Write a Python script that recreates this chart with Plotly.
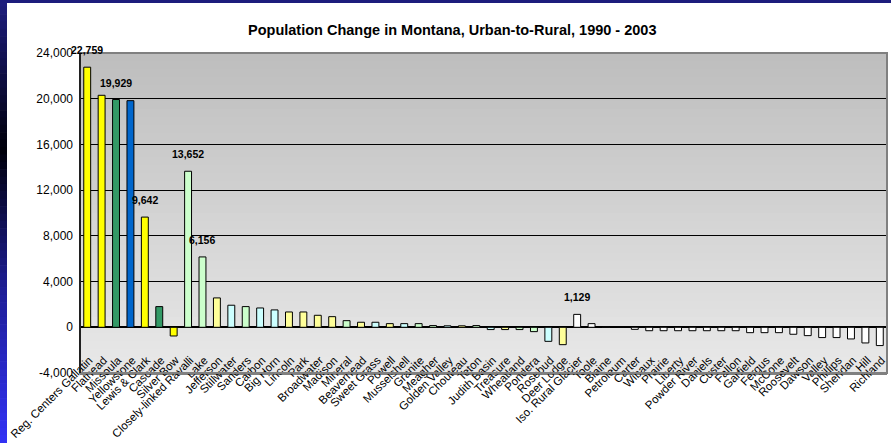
import plotly.graph_objects as go

# ---------------- data ----------------
categories = [
    "Reg. Centers Gallatin", "Flathead", "Missoula", "Yellowstone", "Lewis & Clark",
    "Cascade", "Silver Bow", "Closely-linked Ravalli", "Lake", "Jefferson",
    "Stillwater", "Sanders", "Carbon", "Big Horn", "Lincoln", "Park", "Broadwater",
    "Madison", "Mineral", "Beaverhead", "Sweet Grass", "Powell", "Musselshell",
    "Granite", "Meagher", "Golden Valley", "Chouteau", "Teton", "Judith Basin",
    "Treasure", "Wheatland", "Pondera", "Rosebud", "Deer Lodge",
    "Iso. Rural Glacier", "Toole", "Blaine", "Petroleum", "Carter", "Wibaux",
    "Prairie", "Liberty", "Powder River", "Daniels", "Custer", "Fallon",
    "Garfield", "Fergus", "McCone", "Roosevelt", "Dawson", "Valley", "Phillips",
    "Sheridan", "Hill", "Richland",
]
values = [
    22759, 20300, 19929, 19830, 9642,
    1810, -760, 13652, 6156, 2570,
    1930, 1810, 1690, 1520, 1340, 1340, 1050,
    930, 580, 440, 440, 320, 320,
    320, 150, 130, 130, 150, -200,
    -200, -200, -380, -1230, -1520,
    1129, 320, 30, 10, -180, -300,
    -300, -300, -300, -300, -300, -300,
    -470, -470, -470, -610, -730, -900, -900,
    -1020, -1370, -1600,
]
labelled = ["Reg. Centers Gallatin", "Missoula", "Lewis & Clark",
            "Closely-linked Ravalli", "Lake", "Iso. Rural Glacier"]
y_ticks = [-4000, 0, 4000, 8000, 12000, 16000, 20000, 24000]
title_text = "Population Change in Montana, Urban-to-Rural, 1990 - 2003"

# ---------------- styles ----------------
Y, G, B = "#FFFF00", "#339966", "#0066CC"
LG, LY, LC, W = "#CCFFCC", "#FFFF99", "#CCFFFF", "#FFFFFF"
bar_colors = (
    [Y, Y, G, B, Y, G, Y]
    + [LG, LG, LY, LC, LG, LC, LC, LY, LY, LY, LY, LG, LY, LC, LY, LC, LG,
       LG, LC, LY, LG, LC, LY, LG, LG, LC, LY]
    + [W] * 22
)

FONT = "Liberation Sans, Arial, sans-serif"
W_PX, H_PX = 891, 443
ML, MR, MT, MB = 80, 4, 53, 70
PW, PH = W_PX - ML - MR, H_PX - MT - MB


def px_x(p):
    return (p - ML) / PW


def px_y(p):
    return (H_PX - MB - p) / PH


def mix(c1, c2, t):
    return "rgb(%d,%d,%d)" % tuple(round(a + (b - a) * t) for a, b in zip(c1, c2))


shapes = []
# plot-area vertical gradient
n = 40
for i in range(n):
    t = i / (n - 1)
    shapes.append(dict(type="rect", xref="x domain", yref="y domain",
                       x0=0, x1=1, y0=1 - (i + 1) / n, y1=1 - i / n,
                       fillcolor=mix((190, 190, 190), (232, 232, 232), t),
                       line=dict(width=0), layer="below"))
# left slide border gradient
stops = [(0, (30, 30, 128)), (150, (0, 0, 10)), (290, (30, 30, 150)), (443, (50, 50, 245))]
seg = 60
for i in range(seg):
    y0p = i * H_PX / seg
    y1p = (i + 1) * H_PX / seg
    ym = (y0p + y1p) / 2
    for (a, ca), (b, cb) in zip(stops[:-1], stops[1:]):
        if a <= ym <= b:
            col = mix(ca, cb, (ym - a) / (b - a))
    shapes.append(dict(type="rect", xref="paper", yref="paper",
                       x0=px_x(0), x1=px_x(7), y0=px_y(y1p), y1=px_y(y0p) + 0.002,
                       fillcolor=col, line=dict(width=0), layer="above"))
# top slide strip
shapes.append(dict(type="rect", xref="paper", yref="paper",
                   x0=px_x(0), x1=px_x(W_PX), y0=px_y(3), y1=px_y(0),
                   fillcolor="rgb(28,28,124)", line=dict(width=0)))
# plot border (top/right gray)
shapes.append(dict(type="rect", xref="x domain", yref="y domain",
                   x0=0, x1=1, y0=0, y1=1, line=dict(color="#808080", width=2),
                   fillcolor="rgba(0,0,0,0)", layer="above"))
# left axis black
shapes.append(dict(type="line", xref="x domain", yref="y domain",
                   x0=0, x1=0, y0=0, y1=1, line=dict(color="#000000", width=1.5),
                   layer="above"))

fig = go.Figure()
fig.add_trace(go.Bar(
    x=categories, y=values,
    marker=dict(color=bar_colors, line=dict(color="#000000", width=1)),
    width=0.48,
    hoverinfo="x+y",
))

annotations = []
for c, v in zip(categories, values):
    if c in labelled:
        annotations.append(dict(x=c, y=v, xref="x", yref="y", text=f"<b>{v:,}</b>",
                                showarrow=False, yanchor="middle", yshift=17,
                                font=dict(family=FONT, size=10.5, color="#000000"),
                                ))
annotations.append(dict(x=px_x(452), xref="paper", y=px_y(30), yref="paper",
                        text="<b>" + title_text + "</b>", showarrow=False,
                        xanchor="center", yanchor="middle",
                        font=dict(family=FONT, size=14.5, color="#000000")))

fig.update_layout(
    width=W_PX, height=H_PX,
    margin=dict(l=ML, r=MR, t=MT, b=MB, autoexpand=False),
    paper_bgcolor="#FFFFFF", plot_bgcolor="rgba(0,0,0,0)",
    showlegend=False,
    shapes=shapes, annotations=annotations,
    xaxis=dict(
        type="category", tickangle=-45, showgrid=False, automargin=False,
        showline=True, linecolor="#808080", linewidth=2,
        tickfont=dict(family=FONT, size=11.5, color="#000000"),
        ticks="", ticklabelstandoff=-26, ticklabelshift=2,
        range=[-0.5, len(categories) - 0.5],
    ),
    yaxis=dict(
        range=[-4000, 24000], tickvals=y_ticks, automargin=False,
        ticktext=[f"{t:,}" for t in y_ticks],
        showgrid=True, gridcolor="#000000", gridwidth=1,
        zeroline=True, zerolinecolor="#000000", zerolinewidth=1.5,
        tickfont=dict(family=FONT, size=12, color="#000000"),
        ticks="", ticklabelstandoff=6,
    ),
)

fig.write_html(
    "out.html",
    config={"displayModeBar": False},
    post_script="document.body.style.margin='0';document.body.style.overflow='hidden';",
)
